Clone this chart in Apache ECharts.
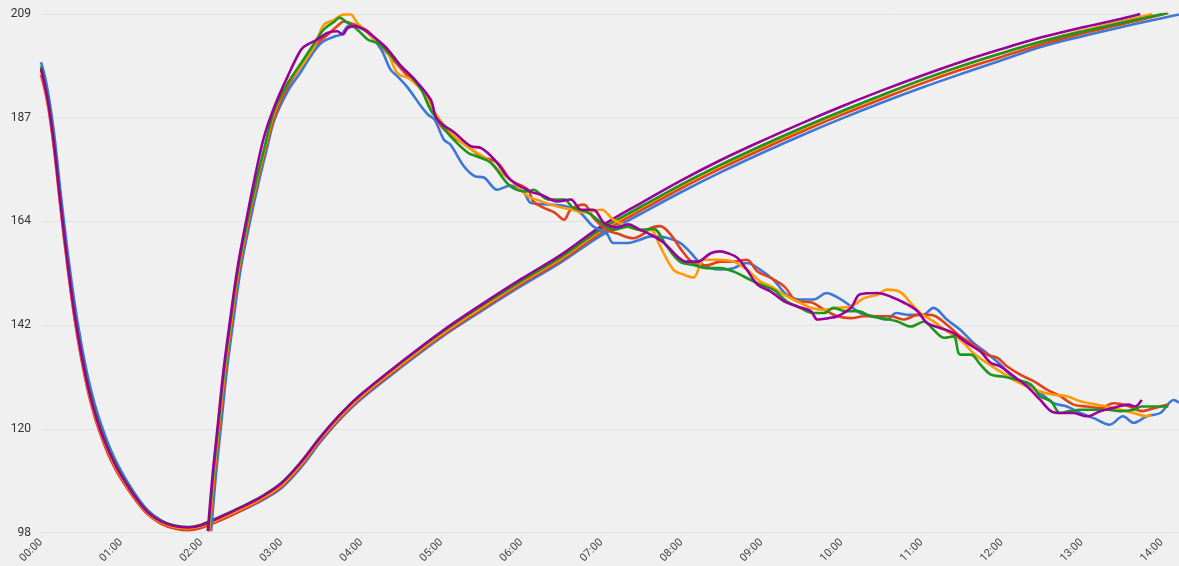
<!DOCTYPE html>
<html>
<head>
<meta charset="utf-8">
<script src="https://cdn.jsdelivr.net/npm/echarts@6/dist/echarts.min.js"></script>
<style>
  html, body { margin: 0; padding: 0; background: #f0f0f0; }
  #chart { width: 1179px; height: 566px; }
</style>
</head>
<body>
<div id="chart"></div>
<script>
// Time is in minutes from 00:00; each pair is [minute, value].
const hourTicks = [0, 60, 120, 180, 240, 300, 360, 420, 480, 540, 600, 660, 720, 780, 840];
const valueTicks = [98, 120.2, 142.4, 164.6, 186.8, 209];
const valueTickLabels = ['98', '120', '142', '164', '187', '209'];

// Smooth curves: cool down, then slow warm-up
const blueSmooth = [[0,198.7],[3,195.5],[6,191],[10,183],[15,170],[20,158],[25,147.5],[30,138.8],[35,131.5],[40,125.8],[45,121.2],[50,117.3],[55,114],[60,111.2],[70,106.5],[80,102.8],[90,100.6],[100,99.4],[110,99],[120,99.3],[135,100.8],[150,102.7],[165,104.8],[180,107.5],[195,112],[210,117.6],[225,122.5],[240,126.6],[270,133.4],[300,139.8],[330,145.4],[360,150.8],[390,155.9],[420,161.6],[450,166.3],[480,170.9],[510,175.2],[540,179.2],[570,183],[600,186.6],[630,190],[660,193.2],[690,196.2],[720,199.1],[750,202],[780,204.2],[810,206.2],[840,208.1],[853,208.9]];
const redSmooth = [[0,196],[3,192.5],[6,188],[10,179.5],[15,166.5],[20,154.5],[25,144],[30,135.5],[35,128.5],[40,123],[45,118.7],[50,115],[55,112],[60,109.5],[70,105.3],[80,101.9],[90,99.9],[100,98.9],[110,98.5],[120,99],[135,100.7],[150,102.7],[165,105],[180,107.8],[195,112.4],[210,118],[225,122.8],[240,126.9],[270,133.7],[300,140.1],[330,145.8],[360,151.2],[390,156.3],[420,162.2],[450,167],[480,171.7],[510,176],[540,180],[570,183.8],[600,187.4],[630,190.8],[660,194.1],[690,197.1],[720,199.8],[750,202.5],[780,204.8],[810,206.8],[845,209.2]];
const orangeSmooth = [[0,197],[3,193.2],[6,188.8],[10,180.2],[15,167.2],[20,155.2],[25,144.7],[30,136.2],[35,129.2],[40,123.7],[45,119.3],[50,115.7],[55,112.6],[60,110],[70,105.7],[80,102.2],[90,100.2],[100,99.2],[110,98.9],[120,99.4],[135,101.1],[150,103.1],[165,105.3],[180,108.1],[195,112.7],[210,118.3],[225,123.1],[240,127.2],[270,134],[300,140.4],[330,146.1],[360,151.6],[390,156.7],[420,162.7],[450,167.6],[480,172.3],[510,176.6],[540,180.6],[570,184.4],[600,188],[630,191.5],[660,194.8],[690,197.8],[720,200.6],[750,203.1],[780,205.4],[810,207.4],[833,209]];
const greenSmooth = [[0,197.8],[3,194],[6,189.5],[10,181],[15,168],[20,156],[25,145.5],[30,137],[35,130],[40,124.5],[45,120],[50,116.3],[55,113.2],[60,110.5],[70,106],[80,102.5],[90,100.5],[100,99.5],[110,99.2],[120,99.7],[135,101.5],[150,103.5],[165,105.7],[180,108.6],[195,113.2],[210,118.7],[225,123.5],[240,127.6],[270,134.4],[300,140.8],[330,146.5],[360,151.9],[390,157],[420,163],[450,167.8],[480,172.5],[510,176.8],[540,180.8],[570,184.6],[600,188.2],[630,191.6],[660,194.9],[690,197.9],[720,200.6],[750,203.1],[780,205.2],[810,207.1],[844,209.2]];
const purpleSmooth = [[0,197.3],[3,193.5],[6,189],[10,180.5],[15,167.5],[20,155.5],[25,145],[30,136.5],[35,129.5],[40,124],[45,119.6],[50,116],[55,112.9],[60,110.3],[70,105.9],[80,102.4],[90,100.4],[100,99.4],[110,99.1],[120,99.6],[135,101.4],[150,103.4],[165,105.6],[180,108.5],[195,113.1],[210,118.6],[225,123.5],[240,127.6],[270,134.5],[300,141],[330,146.8],[360,152.3],[390,157.5],[420,163.6],[450,168.6],[480,173.4],[510,177.8],[540,181.8],[570,185.6],[600,189.2],[630,192.6],[660,195.8],[690,198.8],[720,201.5],[750,204],[780,206.1],[810,208],[824,209]];

// Noisy curves: sharp rise, peak near 03:50, then a drifting decline
const blueNoisy = [[127.5,98.3],[131,110],[135,121],[139,132],[144,143],[150,155],[157,165],[164,174],[170,181],[175,186.4],[185,192.5],[195,196.7],[202,199.9],[210,202.8],[220,204.2],[225,204.6],[230,206.4],[235,206.7],[245,205],[255,201.4],[262,197.1],[267,195.7],[275,193.2],[285,189.2],[290,187.5],[295,186.4],[302,182.1],[307,181],[317,176.4],[325,174.3],[332,174],[342,171.4],[352,172.3],[362,170.8],[367,168.6],[382,168.2],[394,167.8],[404,166.5],[414,163.5],[424,162],[429,160],[440,160],[449,160.7],[457,161.4],[469,161.1],[479,160],[487,157.9],[494,155.7],[502,154.6],[510,154.3],[519,154.6],[529,155.7],[539,154.3],[549,152.1],[559,148.9],[569,147.9],[579,147.9],[589,149.3],[596,148.5],[604,147.1],[614,145],[624,144.3],[634,143.6],[641,145],[651,144.6],[661,144.6],[669,146.1],[679,143.6],[689,141.4],[699,138.6],[709,136.4],[719,134],[729,131.1],[739,129.7],[749,127.9],[759,125.7],[769,125],[779,123.6],[789,122.5],[801,121.1],[811,122.9],[819,121.5],[829,122.9],[839,123.6],[849,126.4],[853,125.8]];
const redNoisy = [[126.5,98.3],[130,110],[134,121],[138,132],[143,143],[149,155],[156,165],[163,174],[169,181],[175,187],[185,193.5],[195,197.8],[205,202.1],[215,204.6],[222,206.4],[227,207.4],[235,206.7],[245,205.3],[255,202.1],[265,198.9],[275,195.7],[285,193.2],[292,189.5],[300,185],[310,182.5],[320,180.7],[330,178.5],[342,177.2],[352,173.5],[365,171.4],[369,168.9],[377,167.5],[385,166.5],[392,165],[397,167.1],[407,168.2],[414,165.4],[424,162.8],[432,162],[444,161],[452,162],[457,163.2],[464,163.6],[472,161.8],[479,158.9],[489,155.7],[499,155.2],[509,156],[519,156],[529,156.4],[537,153.9],[547,152.5],[557,150.7],[567,147.5],[577,147.3],[587,145.7],[597,144.3],[607,143.9],[617,144.3],[627,144.3],[637,144.3],[647,143.6],[657,144.6],[667,144.6],[679,142.5],[689,140],[699,138.2],[709,136.1],[717,135.4],[724,133.6],[734,131.8],[744,130.4],[754,128.6],[764,127.2],[774,125.4],[784,125],[794,124.7],[804,125.7],[814,125.2],[825,124],[835,124.7],[845,125.4]];
const orangeNoisy = [[126,98.3],[129.5,110],[133.5,121],[137.5,132],[142.5,143],[148.5,155],[155.5,165],[162.5,174],[168.5,181],[175,188],[185,194.2],[195,197.8],[205,202.1],[212,206.7],[220,207.8],[227,208.9],[232,208.9],[237,207.1],[245,205],[252,203],[260,200.7],[267,196.4],[277,195],[287,192.1],[295,188],[307,183.6],[320,180.5],[335,177.8],[345,175],[352,173.5],[365,170],[375,168.9],[387,167.8],[397,167.2],[407,166.5],[420,167.1],[429,165],[440,163.5],[449,162.8],[457,162.8],[464,159.3],[474,154.3],[482,153.2],[489,152.6],[497,156.4],[507,156.4],[519,156],[529,154.3],[539,151.8],[549,150.4],[559,148.6],[569,147.2],[578,146],[587,145.7],[597,146.1],[607,146.4],[617,148.2],[627,148.9],[634,150],[644,149.5],[652,147.1],[659,145],[669,143.2],[679,141.1],[689,139.3],[699,136.4],[709,134.3],[719,132.5],[729,130.7],[739,129.3],[749,128.2],[759,127.5],[769,127.2],[779,126.1],[789,125.5],[799,125],[809,124.3],[819,123.6],[829,122.9],[832,123.3]];
const greenNoisy = [[125.5,98.3],[129,110],[133,121],[137,132],[142,143],[148,155],[155,165],[162,174],[168,181],[175,188.5],[185,194.2],[195,198.5],[205,202.8],[212,205.7],[220,207.4],[223.5,208.2],[230,207.1],[237,205.7],[245,203.5],[252,202.8],[257,201.8],[265,199.2],[275,196.4],[285,192.8],[292,188.5],[300,185.5],[307,182.8],[320,179.3],[327,178.5],[337,177.2],[352,172.1],[365,171],[369,171.4],[380,169.3],[392,169.3],[399,167.5],[410,166.5],[420,164.3],[429,162.8],[440,163.5],[449,162.8],[459,163],[469,159.3],[479,156],[489,155.3],[499,154.6],[509,154.6],[519,153.9],[529,152.5],[539,151.1],[549,150],[559,147.5],[569,146.1],[579,145],[587,145],[594,146.1],[603,145.4],[612,145.4],[622,144.3],[632,143.8],[642,143.2],[652,142.1],[662,143.2],[669,141.4],[677,139.7],[684,140],[689,136.1],[697,136.1],[704,134],[712,131.8],[721,131.4],[732,130.7],[742,129.7],[749,127.2],[757,126.1],[764,123.6],[771,124],[779,124.3],[789,124.3],[799,124.3],[809,124],[819,124.3],[825,125],[835,125],[845,125]];
const purpleNoisy = [[125,98.3],[128.5,110],[132.5,121],[136.5,132],[141.5,143],[147.5,155],[154,165],[161,175],[167,182.5],[175,189.2],[185,195.7],[195,201.4],[200,202.5],[207,203.5],[215,205],[222,205.3],[226,204.6],[230,206],[235,206.4],[243,205.5],[252,203.5],[260,201.4],[270,197.8],[280,195],[292,190.7],[297,186.4],[310,183.6],[322,180.7],[330,180.3],[340,177.8],[352,173.5],[367,171],[375,170.3],[387,168.9],[397,169.3],[405,167.1],[414,167.1],[422,164.3],[432,163.3],[440,164],[449,162.8],[457,161.8],[467,160],[477,157.1],[484,156],[492,156],[502,157.8],[509,158.2],[515,157.8],[522,156.8],[529,154.3],[537,151.1],[547,149.6],[557,147.5],[567,146.4],[577,145.4],[582,143.6],[590,143.9],[597,144.3],[607,146.1],[614,149],[627,149.3],[637,148.5],[647,147.2],[657,145.4],[664,142.9],[674,141.8],[684,140.7],[694,138.6],[704,136.8],[712,134.3],[719,133.6],[729,131.5],[739,129.3],[749,126.4],[757,124],[764,123.6],[774,123.6],[784,122.9],[794,124],[804,124.7],[815,125.4],[820,125],[825,126.4]];

const palette = {
  blue: '#3b78d8',
  red: '#e2411c',
  orange: '#ff9a00',
  green: '#1c961c',
  purple: '#990099'
};

const lines = [
  ['blue', blueSmooth], ['red', redSmooth], ['orange', orangeSmooth], ['green', greenSmooth], ['purple', purpleSmooth],
  ['blue', blueNoisy], ['red', redNoisy], ['orange', orangeNoisy], ['green', greenNoisy], ['purple', purpleNoisy]
];

function hhmm(m) {
  const h = Math.floor(m / 60), mm = Math.round(m % 60);
  return String(h).padStart(2, '0') + ':' + String(mm).padStart(2, '0');
}

function valueLabel(v) {
  let best = 0;
  valueTicks.forEach((t, i) => { if (Math.abs(t - v) < Math.abs(valueTicks[best] - v)) best = i; });
  return valueTickLabels[best];
}

const gridColor = '#dde2e5';
const chart = echarts.init(document.getElementById('chart'), null, { renderer: 'canvas' });

chart.setOption({
  backgroundColor: '#f0f0f0',
  animation: false,
  textStyle: { fontFamily: 'Roboto, "Noto Sans", sans-serif' },
  grid: { left: 41, right: 0, top: 14, bottom: 33, containLabel: false },
  xAxis: {
    type: 'value',
    min: 0,
    max: 853,
    axisLine: { show: true, lineStyle: { color: gridColor, width: 1 } },
    axisTick: { show: true, customValues: hourTicks, length: 5, lineStyle: { color: gridColor } },
    splitLine: { show: false },
    axisLabel: {
      customValues: hourTicks,
      formatter: hhmm,
      rotate: 45,
      fontSize: 11,
      color: '#444',
      margin: 8
    }
  },
  yAxis: {
    type: 'value',
    min: 98,
    max: 209,
    axisLine: { show: false },
    axisTick: { show: false, customValues: valueTicks },
    splitLine: { show: true, lineStyle: { color: gridColor, width: 1 } },
    axisLabel: {
      customValues: valueTicks,
      formatter: valueLabel,
      fontSize: 12,
      color: '#333',
      margin: 10
    }
  },
  series: lines.map(([c, d]) => ({
    type: 'line',
    data: d,
    showSymbol: false,
    symbol: 'none',
    smooth: 0.35,
    lineStyle: { color: palette[c], width: 2.6 },
    itemStyle: { color: palette[c] }
  }))
});
</script>
</body>
</html>
